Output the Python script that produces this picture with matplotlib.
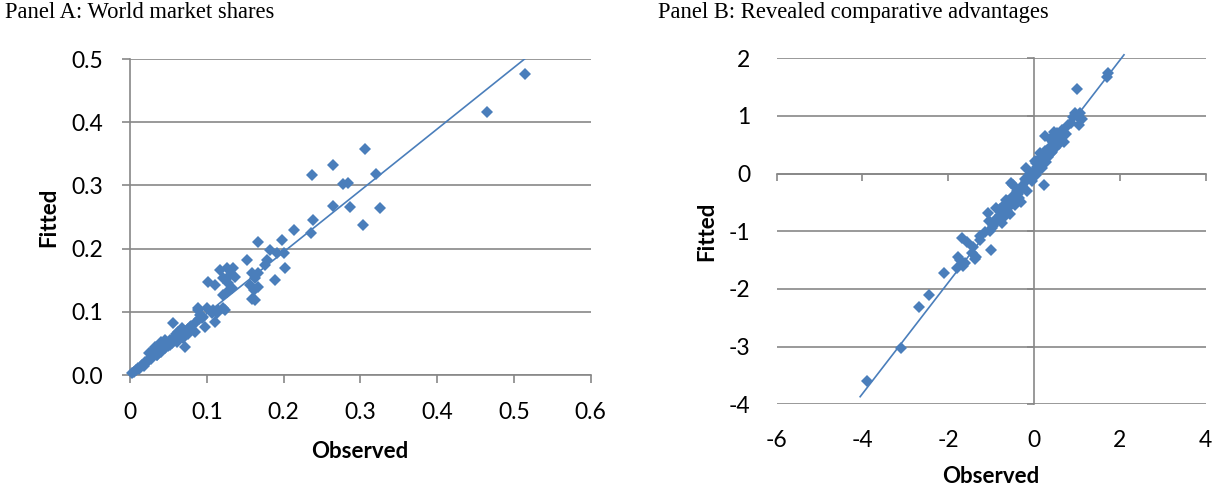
import numpy as np
import matplotlib
matplotlib.use("Agg")
import matplotlib.pyplot as plt

plt.rcParams['font.family'] = ['Lato', 'DejaVu Sans']

# ---- data ----
# Panel A: world market shares (observed, fitted)
obs_a = [0.514, 0.465, 0.3055, 0.264, 0.237, 0.321, 0.277, 0.284, 0.264, 0.287,
         0.325, 0.303, 0.238, 0.2356, 0.213, 0.167, 0.198, 0.1825, 0.191, 0.200,
         0.152, 0.178, 0.176, 0.202, 0.189, 0.117, 0.126, 0.1347, 0.130, 0.137,
         0.1217, 0.102, 0.111, 0.128, 0.1326, 0.126, 0.1217, 0.1587, 0.163, 0.167,
         0.1565, 0.161, 0.1587, 0.163, 0.167, 0.089, 0.100, 0.1086, 0.1217, 0.113,
         0.0913, 0.0565, 0.063, 0.0717, 0.089, 0.0978, 0.0847, 0.078, 0.0695, 0.061,
         0.052, 0.041, 0.0326, 0.035, 0.0935, 0.1065, 0.115, 0.124, 0.111,
         0.002, 0.005, 0.008, 0.010, 0.012, 0.015, 0.018, 0.020, 0.022, 0.025,
         0.028, 0.030, 0.033, 0.035, 0.038, 0.040, 0.042, 0.045, 0.048, 0.050,
         0.052, 0.055, 0.058, 0.060, 0.030, 0.025, 0.045, 0.065, 0.070, 0.075,
         0.080, 0.068, 0.085, 0.090, 0.095, 0.075, 0.060]
fit_a = [0.477, 0.416, 0.358, 0.333, 0.316, 0.3175, 0.302, 0.304, 0.268, 0.266,
         0.264, 0.237, 0.246, 0.224, 0.229, 0.211, 0.2136, 0.198, 0.1925, 0.1925,
         0.182, 0.182, 0.174, 0.169, 0.150, 0.166, 0.169, 0.169, 0.158, 0.1556,
         0.153, 0.1476, 0.142, 0.145, 0.137, 0.132, 0.1266, 0.161, 0.153, 0.161,
         0.142, 0.1345, 0.121, 0.1187, 0.140, 0.1055, 0.1055, 0.103, 0.1055, 0.0976,
         0.095, 0.082, 0.0685, 0.0448, 0.103, 0.0765, 0.0685, 0.0765, 0.058, 0.0527,
         0.0475, 0.0527, 0.0448, 0.0316, 0.0897, 0.0976, 0.103, 0.103, 0.0843,
         0.003, 0.004, 0.008, 0.011, 0.010, 0.016, 0.015, 0.021, 0.020, 0.026,
         0.025, 0.030, 0.034, 0.031, 0.040, 0.036, 0.045, 0.042, 0.050, 0.046,
         0.055, 0.050, 0.060, 0.055, 0.040, 0.035, 0.055, 0.062, 0.068, 0.072,
         0.078, 0.074, 0.082, 0.088, 0.092, 0.065, 0.065]

# Panel B: revealed comparative advantages (observed, fitted)
obs_b = [-3.88, -3.10, -2.67, -2.44, -2.10, -1.80, -1.65, -1.72, -1.76, -1.68,
         -1.55, -1.42, -1.34, -1.25, -1.00, -1.25, -1.45, -1.60, -1.38, -1.08,
         -1.05, -0.98, -0.92, -1.02, -0.88, -0.80, -0.75, -0.70, -0.62, -0.60,
         -0.55, -0.50, -0.45, -0.40, -0.35, -0.48, -0.30, -0.25, -0.20, -0.15,
         -0.195, -0.10, -0.05, -0.03, 0.00, 0.05, 0.10, 0.23, 0.15, 0.14,
         0.20, 0.27, 0.25, 0.30, 0.35, 0.40, 0.45, 0.38, 0.50, 0.55,
         0.60, 0.65, 0.70, 0.48, 0.80, 0.95, 1.08, 1.12, 1.04, 0.87,
         1.00, 1.73, 1.70, 0.90, 1.00, -0.53, -0.65, -0.85, -0.38, -0.28,
         -0.12, 0.08, 0.18, 0.32, 0.42, 0.58, 0.75, -0.70, -0.42, 0.05,
         -0.90, -0.78, -0.58, -0.33, -0.18, 0.02, 0.12, 0.28, 0.44, 0.62,
         -1.15, -0.95, -0.68, 0.35, 0.52]
fit_b = [-3.59, -3.03, -2.31, -2.11, -1.73, -1.64, -1.61, -1.50, -1.44, -1.11,
         -1.18, -1.27, -1.44, -1.15, -1.32, -1.09, -1.38, -1.55, -1.48, -0.69,
         -0.82, -0.95, -0.88, -1.00, -0.60, -0.72, -0.85, -0.55, -0.65, -0.48,
         -0.70, -0.40, -0.55, -0.30, -0.42, -0.20, -0.50, -0.25, -0.10, -0.30,
         0.10, 0.00, -0.12, -0.05, 0.05, -0.02, 0.04, -0.19, 0.15, 0.36,
         0.25, 0.65, 0.40, 0.30, 0.45, 0.35, 0.55, 0.60, 0.45, 0.70,
         0.65, 0.75, 0.55, 0.72, 0.85, 1.06, 1.06, 0.94, 0.85, 0.88,
         1.46, 1.75, 1.67, 0.98, 1.00, -0.16, -0.45, -0.78, -0.35, -0.22,
         -0.05, 0.12, 0.10, 0.28, 0.38, 0.52, 0.68, -0.75, -0.48, 0.18,
         -0.80, -0.62, -0.58, -0.28, -0.12, 0.22, 0.25, 0.20, 0.48, 0.58,
         -1.02, -0.90, -0.70, 0.42, 0.60]

# linear trend lines: slope, intercept, x range
trend_a = {'slope': 0.973, 'intercept': 0.0, 'x': [0.0, 0.514]}
trend_b = {'slope': 0.964, 'intercept': 0.036, 'x': [-4.05, 2.10]}

xticks_a = [0, 0.1, 0.2, 0.3, 0.4, 0.5, 0.6]
xlabels_a = ['0', '0.1', '0.2', '0.3', '0.4', '0.5', '0.6']
yticks_a = [0.0, 0.1, 0.2, 0.3, 0.4, 0.5]
ylabels_a = ['0.0', '0.1', '0.2', '0.3', '0.4', '0.5']
xticks_b = [-6, -4, -2, 0, 2, 4]
yticks_b = [-4, -3, -2, -1, 0, 1, 2]

blue = '#4a7ebb'
grey = '#878787'
W, H = 1212, 493

fig = plt.figure(figsize=(W / 100, H / 100), dpi=100)

# ---------------- Panel A ----------------
axA = fig.add_axes([130 / W, 1 - 375 / H, 460.7 / W, 316 / H])
axA.set_xlim(0, 0.6)
axA.set_ylim(0, 0.5)
axA.set_yticks(yticks_a, ylabels_a)
axA.set_xticks(xticks_a, xlabels_a)
axA.grid(axis='y', color=grey, linewidth=1.2)
axA.set_axisbelow(True)
for s in ['top', 'right']:
    axA.spines[s].set_visible(False)
for s in ['left', 'bottom']:
    axA.spines[s].set_color(grey)
    axA.spines[s].set_linewidth(1.2)
axA.tick_params(direction='out', length=5.8, width=1.2, color=grey,
                labelsize=16.5, pad=13.5)

xa = np.array(trend_a['x'])
axA.plot(xa, trend_a['slope'] * xa + trend_a['intercept'], color=blue, lw=1.2, zorder=3)
axA.plot(obs_a, fit_a, linestyle='none', marker='D', ms=6.6, color=blue,
         markeredgewidth=0, clip_on=False, zorder=4)

axA.set_xlabel('Observed', fontsize=16, fontweight='bold', va='center')
axA.xaxis.set_label_coords(0.499, -0.243)
axA.set_ylabel('Fitted', fontsize=16, fontweight='bold', va='center')
axA.yaxis.set_label_coords(-0.177, 0.5)

fig.text(5 / W, 1 - 2 / H, 'Panel A: World market shares', va='top', ha='left',
         family='Liberation Serif', fontsize=16.3)

# ---------------- Panel B ----------------
axB = fig.add_axes([776.5 / W, 1 - 404.3 / H, 429 / W, 346 / H])
axB.set_xlim(-6, 4)
axB.set_ylim(-4, 2)
axB.set_xticks(xticks_b)
axB.set_yticks(yticks_b)
axB.grid(axis='y', color=grey, linewidth=1.2)
axB.set_axisbelow(True)
for s in ['top', 'right']:
    axB.spines[s].set_visible(False)
axB.spines['left'].set_position(('data', 0))
axB.spines['bottom'].set_position(('data', 0))
for s in ['left', 'bottom']:
    axB.spines[s].set_color(grey)
    axB.spines[s].set_linewidth(1.2)
axB.tick_params(direction='out', length=5.2, width=1.2, color=grey,
                labelleft=False, labelbottom=False)

# tick labels sit at the panel edges, the axis lines cross at zero
secx = axB.secondary_xaxis('bottom')
secx.set_xticks(xticks_b, [str(v) for v in xticks_b])
secx.tick_params(length=0, labelsize=16.5, pad=18.5)
secx.spines['bottom'].set_visible(False)
secy = axB.secondary_yaxis('left')
secy.set_yticks(yticks_b, [str(v) for v in yticks_b])
secy.tick_params(length=0, labelsize=16.5, pad=19)
secy.spines['left'].set_visible(False)

xb = np.array(trend_b['x'])
axB.plot(xb, trend_b['slope'] * xb + trend_b['intercept'], color=blue, lw=1.2,
         zorder=3, clip_on=False)
axB.plot(obs_b, fit_b, linestyle='none', marker='D', ms=6.6, color=blue,
         markeredgewidth=0, clip_on=False, zorder=4)

secx.set_xlabel('Observed', fontsize=16, fontweight='bold', va='center')
secx.xaxis.set_label_coords(0.5, -0.21, transform=axB.transAxes)
secy.set_ylabel('Fitted', fontsize=16, fontweight='bold', va='center')
secy.yaxis.set_label_coords(-0.162, 0.5, transform=axB.transAxes)

fig.text(658 / W, 1 - 2 / H, 'Panel B: Revealed comparative advantages', va='top',
         ha='left', family='Liberation Serif', fontsize=16.3)

fig.savefig('out.png', dpi=100)
